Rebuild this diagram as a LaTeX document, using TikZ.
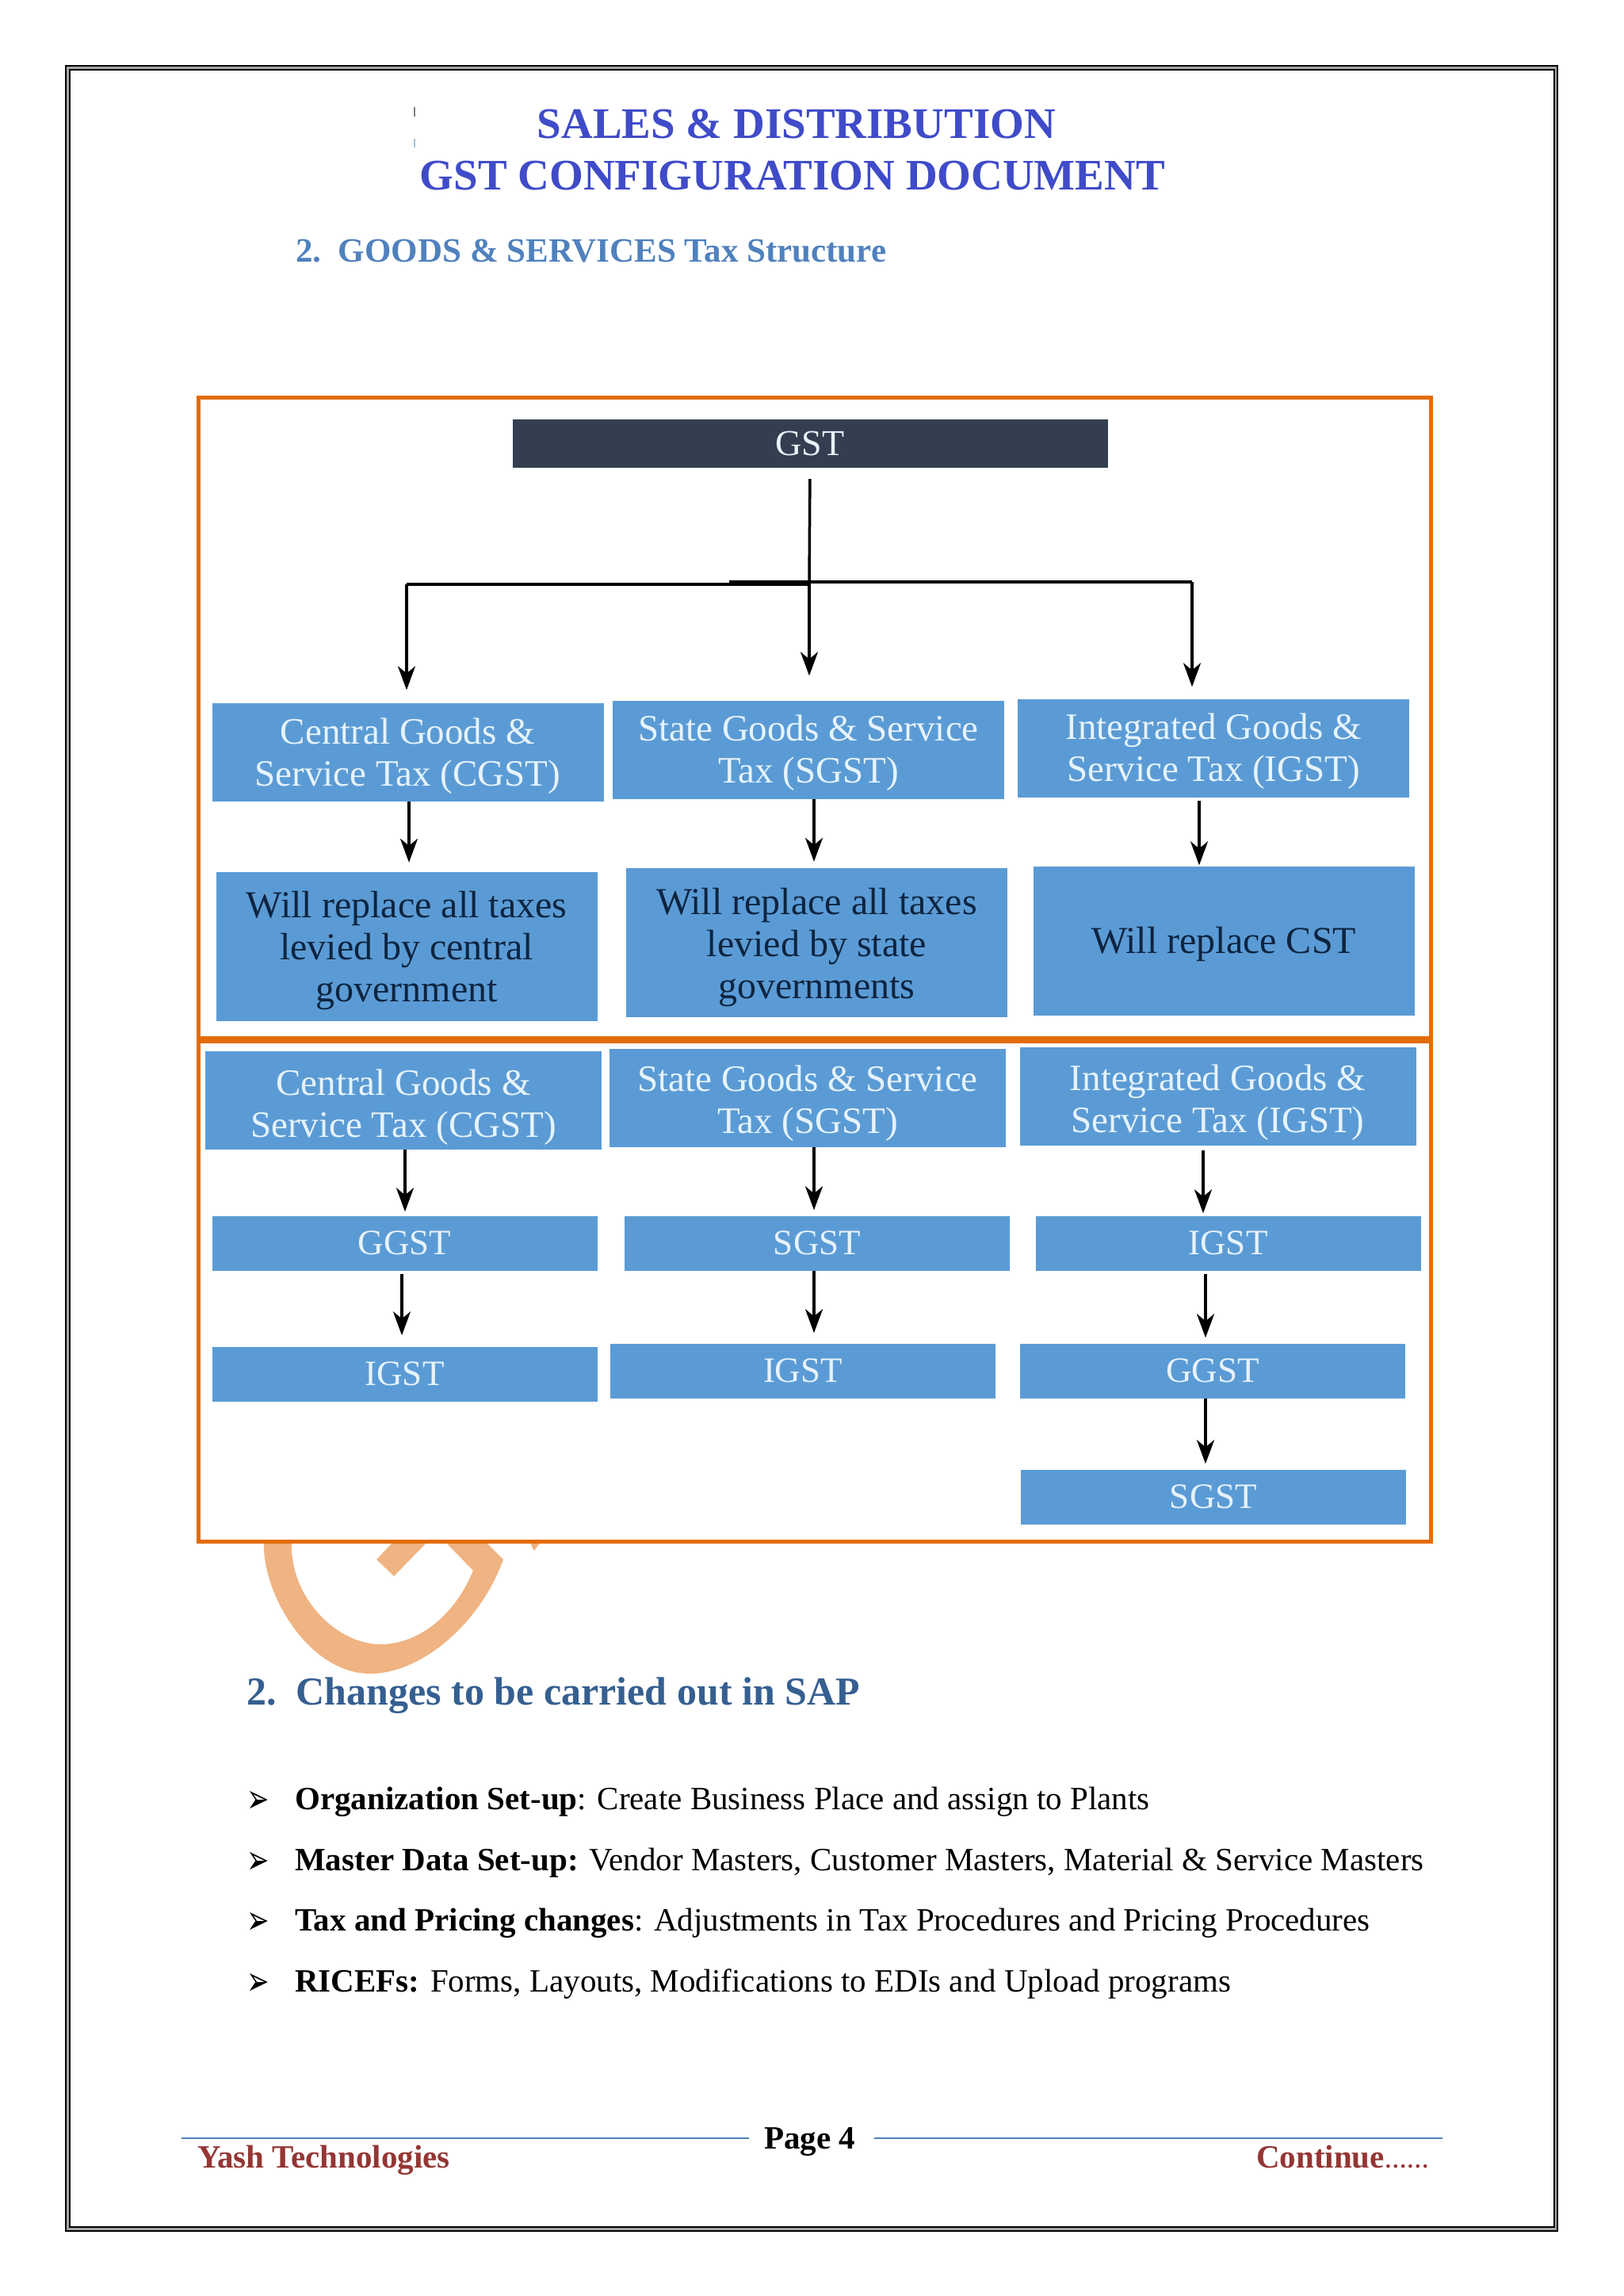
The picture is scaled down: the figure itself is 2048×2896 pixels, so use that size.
\documentclass[tikz,border=0pt]{standalone}
\usepackage{fontspec}
\usepackage{graphicx}
\setmainfont{Liberation Serif}
\newfontfamily\bulletfont{DejaVu Sans}
\usetikzlibrary{arrows.meta}
\definecolor{framered}{HTML}{E36C0A}
\definecolor{markorange}{HTML}{F0B382}
\definecolor{boxblue}{HTML}{5B9BD5}
\definecolor{boxdark}{HTML}{333F50}
\definecolor{boxnavy}{HTML}{0D2440}
\definecolor{boxpale}{HTML}{E6F3FB}
\definecolor{titleblue}{HTML}{3F4BC8}
\definecolor{headblue}{HTML}{4F81BD}
\definecolor{sectblue}{HTML}{365F91}
\definecolor{footred}{HTML}{943634}
\newcommand{\dropline}[1]{\rule{0pt}{#1pt}}
\newcommand{\tallmark}{\scalebox{1}[1.5]{➢}}

\begin{document}
\begin{tikzpicture}[x=1pt,y=-1pt,line cap=butt]
	\tikzstyle{plainbox}=[fill=boxblue,inner sep=0pt,align=center,text=boxpale,font=\fontsize{47}{53}\selectfont];
	\tikzstyle{headbox}=[plainbox,minimum width=494pt,minimum height=124pt];
	\tikzstyle{replbox}=[plainbox,minimum width=481pt,minimum height=188pt,text=boxnavy,font=\fontsize{48}{53}\selectfont];
	\tikzstyle{taxbox}=[plainbox,minimum width=486pt,minimum height=69pt,font=\fontsize{45}{53}\selectfont];
	\tikzstyle{tree}=[line width=3.5pt,black];
	\tikzstyle{arr}=[tree,-{Stealth[length=30pt,width=22pt,inset=9pt]}];
	\tikzstyle{btext}=[anchor=base west,inner sep=0pt,font=\fontsize{41}{48}\selectfont];
	\tikzstyle{bmark}=[btext,font=\bulletfont\fontsize{34}{38}\selectfont];
	\tikzstyle{ttext}=[anchor=base,inner sep=0pt,text=titleblue,font=\bfseries\fontsize{55}{60}\selectfont];
	\useasboundingbox (0,0) rectangle (2048,2896);
	\draw[gray!70,line width=6pt] (85.5,85.5) rectangle (1962.5,2811.5);
	\draw[line width=2.5pt] (83,83) rectangle (1965,2814);
	\draw[line width=2pt] (88,88) rectangle (1961,2809);
	\draw[gray,line width=2pt] (523,135) -- (523,147);
	\draw[headblue!50,line width=2pt] (523,175) -- (523,186);
	\node[ttext] (title1) at (1005,174) {SALES \& DISTRIBUTION};
	\node[ttext] (title2) at (1000,239) {GST CONFIGURATION DOCUMENT};
	\node[anchor=base west,inner sep=0pt,text=headblue,font=\bfseries\fontsize{43}{50}\selectfont] (head1) at (373,330) {2.\ \ GOODS \& SERVICES Tax Structure};
	\fill[markorange] (333,1944) .. controls (330,2010) and (390,2111) .. (467,2111) .. controls (530,2111) and (605,2050) .. (635,1967) -- (612,1944) -- (561,1944) -- (597,1981) .. controls (575,2035) and (530,2074) .. (480,2074) .. controls (425,2074) and (365,2015) .. (368,1944) -- cycle;
	\fill[markorange] (540,1944) -- (497,1988) -- (475,1967) -- (497,1944) -- cycle;
	\fill[markorange] (668,1944) -- (683,1944) -- (674,1956) -- cycle;
	\draw[framered,line width=5pt] (250,501) rectangle (1805,1311);
	\draw[framered,line width=5pt] (250,1311) rectangle (1805,1944);
	\draw[framered,line width=9pt] (250,1311) -- (1805,1311);
	\node[fill=boxdark,inner sep=0pt,text=boxpale,minimum width=751pt,minimum height=61pt,font=\fontsize{46}{53}\selectfont] (gst) at (1022,559.5) {GST};
	\node[headbox] (cgstA) at (514.5,948.5) {\dropline{42}Central Goods \&\\Service Tax (CGST)};
	\node[headbox] (sgstA) at (1020,945.5) {\dropline{41}State Goods \& Service\\Tax (SGST)};
	\node[headbox] (igstA) at (1531,943.5) {\dropline{41}Integrated Goods \&\\Service Tax (IGST)};
	\node[replbox] (replC) at (513,1194) {\dropline{43}Will replace all taxes\\levied by central\\government};
	\node[replbox] (replS) at (1030.5,1189) {\dropline{45}Will replace all taxes\\levied by state\\governments};
	\node[replbox] (replI) at (1544,1186.5) {\dropline{43}Will replace CST};
	\node[headbox,minimum width=500pt] (cgstB) at (509,1388) {\dropline{50}Central Goods \&\\Service Tax (CGST)};
	\node[headbox,minimum width=500pt] (sgstB) at (1019,1385) {\dropline{46}State Goods \& Service\\Tax (SGST)};
	\node[headbox,minimum width=500pt] (igstB) at (1536.5,1383) {\dropline{48}Integrated Goods \&\\Service Tax (IGST)};
	\node[taxbox] (ggstC) at (510.5,1568) {GGST};
	\node[taxbox] (sgstC) at (1031,1568) {SGST};
	\node[taxbox] (igstC) at (1549.5,1568) {IGST};
	\node[taxbox] (igstD) at (510.5,1733) {IGST};
	\node[taxbox] (igstE) at (1013,1729) {IGST};
	\node[taxbox] (ggstE) at (1530,1729) {GGST};
	\node[taxbox] (sgstF) at (1531,1888) {SGST};
	\coordinate (tl) at (513,737);
	\coordinate (tm) at (1021,735);
	\coordinate (tr) at (1504,734);
	\coordinate (tk) at (920,734);
	\draw[tree,shorten <=14pt] (gst.south) -- (tm);
	\draw[tree,line width=4pt] (tl) -- (tm |- tl);
	\draw[tree,line width=4pt] (tr) -- (tk);
	\draw[arr,shorten >=16pt] (tl) -- ([xshift=-1.5pt]cgstA.north);
	\draw[arr,shorten >=31pt] (tm) -- ([xshift=1pt]sgstA.north);
	\draw[arr,shorten >=15pt] (tr) -- ([xshift=-27pt]igstA.north);
	\draw[arr,shorten >=12pt] ([xshift=1.5pt]cgstA.south) -- ([xshift=3pt]replC.north);
	\draw[arr,shorten >=8pt] ([xshift=7pt]sgstA.south) -- ([xshift=-3.5pt]replS.north);
	\draw[arr,shorten >=1pt,shorten <=4pt] ([xshift=-18pt]igstA.south) -- ([xshift=-31pt]replI.north);
	\draw[arr,shorten >=5pt] ([xshift=2pt]cgstB.south) -- ([xshift=.5pt]ggstC.north);
	\draw[arr,shorten >=7pt] ([xshift=8pt]sgstB.south) -- ([xshift=-4pt]sgstC.north);
	\draw[arr,shorten >=3pt,shorten <=6pt] ([xshift=-18.5pt]igstB.south) -- ([xshift=-31.5pt]igstC.north);
	\draw[arr,shorten >=14pt,shorten <=4pt] ([xshift=-3.5pt]ggstC.south) -- ([xshift=-3.5pt]igstD.north);
	\draw[arr,shorten >=13pt] ([xshift=-4pt]sgstC.south) -- ([xshift=14pt]igstE.north);
	\draw[arr,shorten >=7pt,shorten <=4pt] ([xshift=-28.5pt]igstC.south) -- ([xshift=-9pt]ggstE.north);
	\draw[arr,line width=4.5pt,shorten >=7pt] ([xshift=-9pt]ggstE.south) -- ([xshift=-10pt]sgstF.north);
	\node[anchor=base west,inner sep=0pt,text=sectblue,font=\bfseries\fontsize{50}{56}\selectfont] (head2) at (311,2150) {2.\ \ Changes to be carried out in SAP};
	\node[bmark] (mark1) at (311,2286) {\tallmark};
	\node[bmark] (mark2) at (311,2363) {\tallmark};
	\node[bmark] (mark3) at (311,2439) {\tallmark};
	\node[bmark] (mark4) at (311,2516) {\tallmark};
	\node[btext] (item1) at (372,2282) {\textbf{Organization Set-up}: Create Business Place and assign to Plants};
	\node[btext] (item2) at (372,2359) {\textbf{Master Data Set-up:} Vendor Masters, Customer Masters, Material \& Service Masters};
	\node[btext] (item3) at (372,2435) {\textbf{Tax and Pricing changes}: Adjustments in Tax Procedures and Pricing Procedures};
	\node[btext] (item4) at (372,2512) {\textbf{RICEFs:} Forms, Layouts, Modifications to EDIs and Upload programs};
	\draw[headblue,line width=2.5pt] (229,2697) -- (945,2697);
	\draw[headblue,line width=2.5pt] (1103,2697) -- (1820,2697);
	\node[btext,font=\bfseries\fontsize{41}{48}\selectfont] (page) at (964,2710) {Page 4};
	\node[btext,text=footred,font=\bfseries\fontsize{41}{48}\selectfont] (foot1) at (249,2734) {Yash Technologies};
	\node[btext,text=footred,font=\bfseries\fontsize{41}{48}\selectfont] (foot2) at (1585,2734) {Continue{\fontsize{28}{32}\selectfont ……}};
\end{tikzpicture}
\end{document}
